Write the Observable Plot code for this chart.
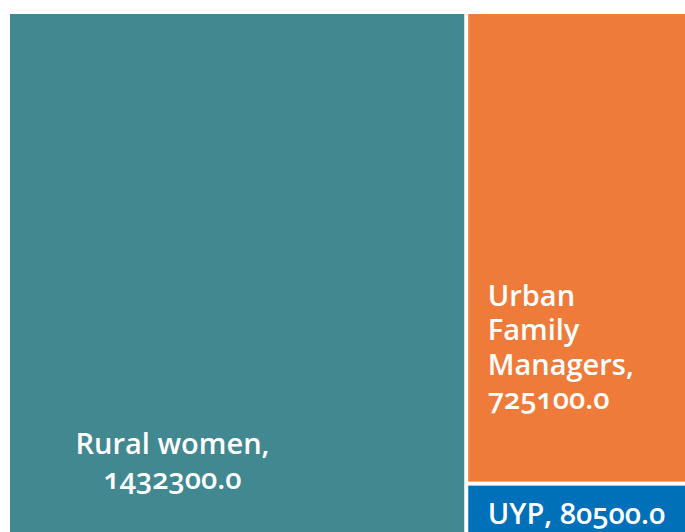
<!DOCTYPE html>
<html>
<head>
<meta charset="utf-8">
<script src="https://cdn.jsdelivr.net/npm/d3@7"></script>
<script src="https://cdn.jsdelivr.net/npm/@observablehq/plot@0.6"></script>
<style>
  html, body { margin: 0; padding: 0; background: #fff; overflow: hidden; }
</style>
</head>
<body>
<div id="chart"></div>
<script>
const categories = ["Rural women", "Urban Family Managers", "UYP"];
const values = [1432300, 725100, 80500];
const labels = ["Rural women,\n1432300.0", "Urban\nFamily\nManagers,\n725100.0", "UYP, 80500.0"];
const colors = ["#418890", "#EF7B3A", "#0070B8"];

const W = 712, H = 520;
const root = d3.hierarchy({children: categories.map((c, i) => ({name: c, value: values[i], label: labels[i], color: colors[i]}))})
  .sum(d => d.value || 0);
d3.treemap().size([W, H]).paddingInner(4).tile(d3.treemapSquarify)(root);
const nodes = root.leaves().map(n => ({name: n.data.name, label: n.data.label, color: n.data.color, x0: n.x0, x1: n.x1, y0: n.y0, y1: n.y1}));
const byName = name => nodes.filter(n => n.name === name);

const font = "'Open Sans', sans-serif";
const textOpts = {fill: "white", fontSize: 29, fontWeight: 600, fontFamily: font, lineHeight: 34.5 / 29};

const chart = Plot.plot({
  width: 685,
  height: 532,
  margin: 0,
  style: {overflow: "hidden", fontVariantNumeric: "oldstyle-nums", background: "white"},
  x: {domain: [0, W], range: [10, 10 + W], axis: null},
  y: {domain: [0, H], range: [14, 14 + H], axis: null},
  color: {type: "identity"},
  marks: [
    Plot.rect(nodes, {x1: "x0", x2: "x1", y1: "y0", y2: "y1", fill: "color"}),
    Plot.text(byName("Rural women"), {...textOpts, x: "x0", y: "y1", text: "label", dx: 162, dy: -46, textAnchor: "middle", lineAnchor: "bottom"}),
    Plot.text(byName("Urban Family Managers"), {...textOpts, x: "x0", y: "y1", text: "label", dx: 19, dy: -73, textAnchor: "start", lineAnchor: "bottom"}),
    Plot.text(byName("UYP"), {...textOpts, x: "x0", y: "y1", text: "label", dx: 19, dy: -11, textAnchor: "start", lineAnchor: "bottom"})
  ]
});
document.getElementById("chart").appendChild(chart);
</script>
</body>
</html>
